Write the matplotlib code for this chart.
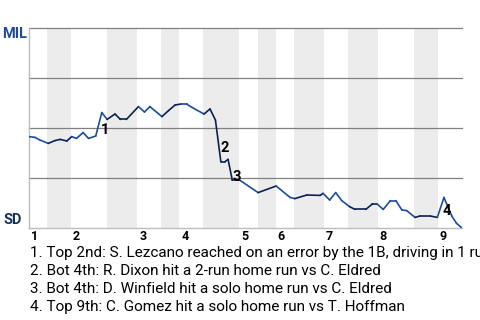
import matplotlib
matplotlib.use("Agg")
import matplotlib.pyplot as plt
import matplotlib.transforms as mtransforms

plt.rcParams['font.family'] = ['Roboto', 'DejaVu Sans']

# Half-inning start positions (plate appearance index); last value = end of game
half_starts = [0, 3, 7, 13, 18, 22, 25, 29, 35, 38, 41, 44, 49, 53, 58, 64, 68, 72]
inning_labels = ["1", "2", "3", "4", "5", "6", "7", "8", "9"]

# Win probability for MIL (%) along game progress
wp_x = [0, 1.0, 1.8, 3.2, 4.3, 5.2, 6.3, 7.1, 7.9, 9.0, 9.9, 11.1, 12.1, 13.0, 14.3,
        15.2, 16.2, 18.2, 19.2, 20.1, 22.1, 23.2, 24.3, 25.3, 26.2, 27.1, 29.1, 30.1,
        31.0, 31.9, 32.6, 33.1, 33.8, 35.0, 38.1, 41.1, 43.4, 44.2, 46.2, 48.4, 48.9,
        50.0, 51.0, 52.0, 53.3, 54.2, 56.0, 57.1, 57.9, 58.9, 60.1, 61.0, 62.0, 62.8,
        64.2, 65.0, 66.7, 67.9, 69.0, 70.3, 71.1, 72.0]
wp_y = [45.7, 45.3, 44.0, 42.3, 43.7, 44.3, 43.5, 45.7, 44.8, 47.7, 44.8, 46.0, 57.7,
        54.3, 57.0, 54.3, 54.3, 60.7, 58.0, 60.7, 55.7, 58.7, 61.5, 62.0, 62.0, 60.3,
        57.0, 59.5, 54.0, 33.2, 33.2, 34.3, 24.0, 24.0, 17.7, 21.0, 15.3, 14.7, 16.5,
        16.3, 17.3, 14.0, 17.7, 13.7, 10.7, 9.3, 9.3, 12.0, 12.0, 9.3, 13.7, 13.7, 9.0,
        8.7, 5.3, 6.0, 6.0, 5.3, 15.3, 6.0, 2.3, 0.0]

# Annotated events: (label, x, y)
event_labels = ["1", "2", "3", "4"]
event_x = [12.6, 32.6, 34.6, 69.4]
event_y = [49.0, 40.0, 25.5, 8.5]

notes = [
    "1. Top 2nd: S. Lezcano reached on an error by the 1B, driving in 1 run",
    "2. Bot 4th: R. Dixon hit a 2-run home run vs C. Eldred",
    "3. Bot 4th: D. Winfield hit a solo home run vs C. Eldred",
    "4. Top 9th: C. Gomez hit a solo home run vs T. Hoffman",
]

BLUE = "#1d4c9f"
DARK = "#0d2150"

fig = plt.figure(figsize=(4.8, 3.2), dpi=100)
ax = fig.add_axes([29/480, 92/320, 433/480, 200/320])
ax.set_xlim(0, 72)
ax.set_ylim(0, 100)

# shaded bottom halves
for i in range(len(half_starts) - 1):
    if i % 2 == 1:
        ax.axvspan(half_starts[i], half_starts[i+1], color="#ececec", lw=0, zorder=0)

for g in [25, 50, 75, 100]:
    ax.axhline(g, color="#808080", lw=0.9, zorder=1, clip_on=False)

for s in ["top", "right"]:
    ax.spines[s].set_visible(False)
ax.spines["left"].set_color("#bdbdbd")
ax.spines["bottom"].set_color("#bdbdbd")
ax.spines["left"].set_linewidth(1.0)
ax.spines["bottom"].set_linewidth(1.0)
ax.set_xticks([])
ax.set_yticks([])

def half_of(xm):
    for i in range(len(half_starts) - 1):
        if half_starts[i] <= xm < half_starts[i+1]:
            return i
    return len(half_starts) - 2

for i in range(len(wp_x) - 1):
    xm = (wp_x[i] + wp_x[i+1]) / 2
    col = DARK if half_of(xm) % 2 == 1 else BLUE
    ax.plot(wp_x[i:i+2], wp_y[i:i+2], color=col, lw=1.2, zorder=3,
            solid_capstyle="round")

for lab, x, y in zip(event_labels, event_x, event_y):
    ax.text(x, y, lab, fontsize=10.5, fontweight="bold", color="black",
            ha="center", va="center", zorder=4)

# inning labels
off = mtransforms.offset_copy(ax.transData, fig=fig, x=2, y=0, units="dots")
for k, lab in enumerate(inning_labels):
    xs = half_starts[2 * k]
    ax.text(xs, -4, lab, transform=off, fontsize=9, fontweight="bold",
            color="black", ha="left", va="center", clip_on=False)

fig.text(27/480, 1 - 33.5/320, "MIL", fontsize=10.5, fontweight="bold",
         color="#1f4b9c", ha="right", va="center")
fig.text(3/480, 1 - 220.5/320, "SD", fontsize=10.5, fontweight="bold",
         color="#14305e", ha="left", va="center")

for j, t in enumerate(notes):
    fig.text(30/480, 1 - (253.3 + 17.8 * j)/320, t, fontsize=11,
             color="black", ha="left", va="center")

fig.savefig("out.png", dpi=100)
